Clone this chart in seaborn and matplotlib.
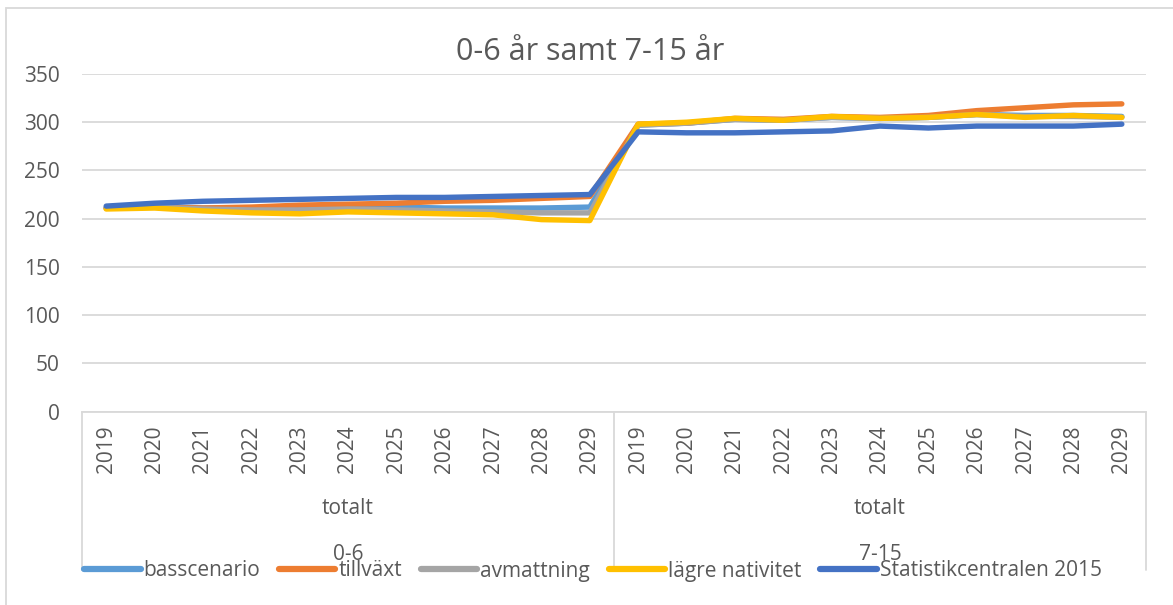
import pandas as pd
import numpy as np
import matplotlib
matplotlib.use("Agg")
import matplotlib.pyplot as plt
import seaborn as sns
from matplotlib.patches import Rectangle

# data
years = [str(y) for y in range(2019, 2030)]
groups = ["0-6", "7-15"]
sub_label = "totalt"
scenarios = ["basscenario", "tillväxt", "avmattning", "lägre nativitet", "Statistikcentralen 2015"]

basscenario = [211, 212, 211, 211, 212, 212, 212, 211, 211, 211, 212,
               297, 299, 303, 302, 305, 304, 305, 308, 307, 307, 306]
tillvaxt = [211, 212, 211, 212, 214, 215, 216, 218, 219, 221, 223,
            298, 299, 304, 303, 306, 305, 307, 312, 315, 318, 319]
avmattning = [211, 212, 210, 209, 209, 210, 209, 208, 207, 206, 206,
              297, 299, 303, 302, 305, 304, 305, 308, 306, 306, 305]
lagre_nativitet = [210, 211, 208, 206, 205, 207, 206, 205, 204, 199, 198,
                   298, 300, 304, 302, 306, 304, 305, 308, 305, 307, 305]
statistikcentralen = [213, 216, 218, 219, 220, 221, 222, 222, 223, 224, 225,
                      290, 289, 289, 290, 291, 296, 294, 296, 296, 296, 298]

colors = ["#5B9BD5", "#ED7D31", "#A5A5A5", "#FFC000", "#4472C4"]
text_col = "#595959"
grid_col = "#D9D9D9"

series = [basscenario, tillvaxt, avmattning, lagre_nativitet, statistikcentralen]
n = len(years) * len(groups)
rows = []
for name, vals in zip(scenarios, series):
    for i, v in enumerate(vals):
        rows.append({"pos": i, "value": v, "scenario": name})
df = pd.DataFrame(rows)

sns.set_style("white")
plt.rcParams['font.family'] = ['Open Sans', 'DejaVu Sans']
fs = 15

fig = plt.figure(figsize=(11.73, 6.05), dpi=100)
ax = fig.add_axes([82 / 1173, 1 - 411.5 / 605, 1064 / 1173, 337.5 / 605])

sns.lineplot(data=df, x="pos", y="value", hue="scenario", hue_order=scenarios,
             palette=dict(zip(scenarios, colors)), linewidth=3.9, sort=False,
             solid_capstyle="round", solid_joinstyle="round", ax=ax)

ax.set_xlim(-0.5, n - 0.5)
ax.set_ylim(0, 350)
ax.set_yticks(range(0, 351, 50))
ax.grid(axis="y", color=grid_col, linewidth=1.3)
ax.set_axisbelow(True)
for s in ["left", "right", "top"]:
    ax.spines[s].set_visible(False)
ax.spines["bottom"].set_color(grid_col)
ax.spines["bottom"].set_linewidth(1.3)

ax.set_xticks(range(n))
ax.set_xticklabels(years * len(groups), rotation=90, va="top")
ax.tick_params(axis="x", length=0, pad=10, labelsize=fs, labelcolor=text_col)
ax.tick_params(axis="y", length=0, pad=16, labelsize=fs, labelcolor=text_col)
ax.set_xlabel("")
ax.set_ylabel("")

# multi-level category axis
trans = ax.get_xaxis_transform()
for k in range(len(groups) + 1):
    xk = k * len(years) - 0.5
    ax.plot([xk, xk], [0, -0.47], transform=trans, color=grid_col, lw=1.3, clip_on=False)
for k, g in enumerate(groups):
    xc = k * len(years) + (len(years) - 1) / 2
    ax.text(xc, -0.286, sub_label, transform=trans, ha="center", va="center",
            fontsize=fs, color=text_col)
    ax.text(xc, -0.425, g, transform=trans, ha="center", va="center",
            fontsize=fs, color=text_col)

fig.text(590 / 1173, 1 - 52 / 605, "0-6 år samt 7-15 år", ha="center", va="center",
         fontsize=22, color=text_col)

sns.move_legend(ax, "center", bbox_to_anchor=(593 / 1173, 1 - 571 / 605),
                bbox_transform=fig.transFigure, ncol=5, frameon=False, title=None,
                fontsize=fs, handlelength=2.7, handletextpad=0.15, columnspacing=0.9,
                labelcolor=text_col)
for line in ax.get_legend().get_lines():
    line.set_linewidth(4.5)
    line.set_solid_capstyle("round")

fig.add_artist(Rectangle((6 / 1173, -0.01), 1.0, 1 - 8 / 605 + 0.01, transform=fig.transFigure,
                         fill=False, edgecolor=grid_col, linewidth=1.3))

fig.savefig("out.png", dpi=100)
